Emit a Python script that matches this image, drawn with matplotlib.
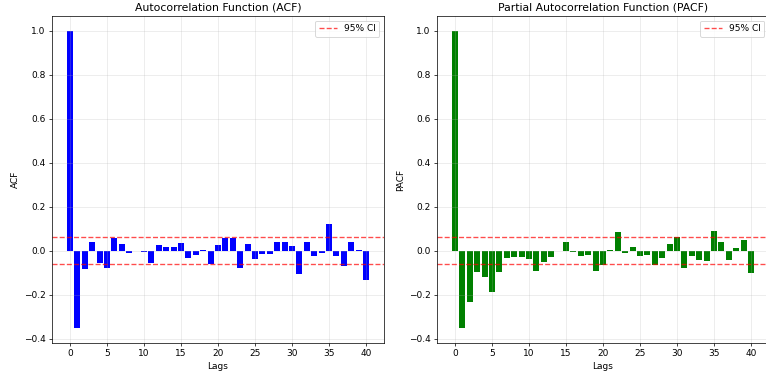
import matplotlib
matplotlib.use("Agg")
import matplotlib.pyplot as plt
import numpy as np

N_OBS = 1000
LAGS = np.arange(41)

ACF_VALUES = [
    1.000, -0.352, -0.085, 0.038, -0.058, -0.080, 0.056, 0.029, -0.012, -0.002,
    -0.008, -0.058, 0.024, 0.015, 0.015, 0.033, -0.035, -0.021, 0.002, -0.061,
    0.024, 0.056, 0.056, -0.079, 0.029, -0.038, -0.015, -0.015, 0.042, 0.038,
    0.020, -0.106, 0.038, -0.024, -0.011, 0.120, -0.024, -0.070, 0.042, 0.002,
    -0.133,
]

PACF_VALUES = [
    1.000, -0.352, -0.233, -0.097, -0.120, -0.188, -0.097, -0.033, -0.029, -0.029,
    -0.038, -0.092, -0.052, -0.029, -0.002, 0.038, -0.006, -0.024, -0.020, -0.092,
    -0.065, 0.002, 0.083, -0.011, 0.015, -0.024, -0.020, -0.065, -0.033, 0.029,
    0.061, -0.079, -0.024, -0.042, -0.047, 0.088, 0.038, -0.042, 0.011, 0.047,
    -0.102,
]

# confidence band for white noise
ci = 1.96 / np.sqrt(N_OBS)

DPI = 65
W, H = 766, 376
fig, axes = plt.subplots(1, 2, figsize=(W / DPI, H / DPI), dpi=DPI)

panels = [
    (axes[0], ACF_VALUES, "blue", "Autocorrelation Function (ACF)", "ACF"),
    (axes[1], PACF_VALUES, "green", "Partial Autocorrelation Function (PACF)", "PACF"),
]

for ax, values, color, title, ylabel in panels:
    ax.bar(LAGS, values, color=color)
    ax.axhline(y=ci, linestyle="--", color="red", alpha=0.7, label="95% CI")
    ax.axhline(y=-ci, linestyle="--", color="red", alpha=0.7)
    ax.set_title(title)
    ax.set_xlabel("Lags")
    ax.set_ylabel(ylabel)
    ax.legend(loc="upper right")
    ax.grid(True, alpha=0.3)

# the right panel runs just past the canvas edge
plt.subplots_adjust(left=52 / W, right=769 / W, top=1 - 16 / H,
                    bottom=1 - 343 / H, wspace=53 / 332)
plt.savefig("out.png")
